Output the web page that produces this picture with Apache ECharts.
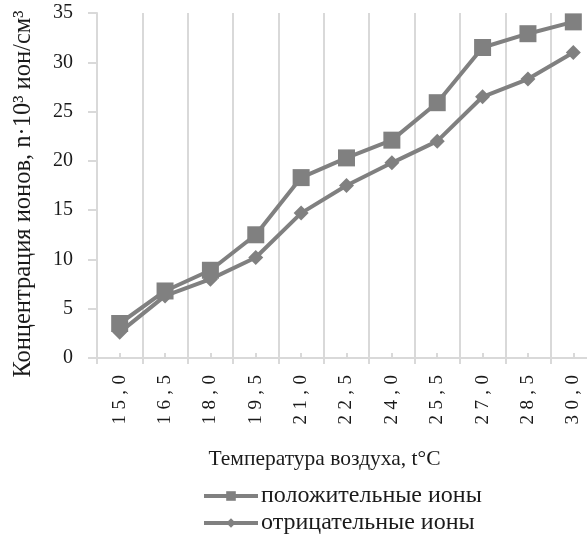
<!DOCTYPE html>
<html>
<head>
<meta charset="utf-8">
<script src="https://cdn.jsdelivr.net/npm/echarts@6/dist/echarts.min.js"></script>
<style>
html,body{margin:0;padding:0;background:#fff;}
#chart{width:587px;height:535px;}
</style>
</head>
<body>
<div id="chart"></div>
<script>
const categories = ["15,0","16,5","18,0","19,5","21,0","22,5","24,0","25,5","27,0","28,5","30,0"];
const positiveIons = [3.5, 6.8, 8.9, 12.5, 18.3, 20.3, 22.1, 25.9, 31.5, 32.9, 34.1];
const negativeIons = [2.6, 6.3, 8.0, 10.2, 14.7, 17.5, 19.8, 22.0, 26.5, 28.3, 31.0];
const yTicks = {min: 0, max: 35, interval: 5};
const seriesNames = ["положительные ионы", "отрицательные ионы"];
const xTitle = "Температура воздуха, t°C";
const yTitle = "Концентрация ионов, n·10³ ион/см³";

const FONT = "'Liberation Serif', 'DejaVu Serif', serif";
const TXT = "#1a1a1a";
const GRID = "#d9d9d9";
const LINE = "#808080";

const chart = echarts.init(document.getElementById('chart'));
chart.setOption({
  animation: false,
  backgroundColor: '#fff',
  textStyle: {fontFamily: FONT, color: TXT},
  grid: {left: 97, top: 13, bottom: 177, width: 499, containLabel: false, outerBoundsMode: 'none'},
  legend: {
    orient: 'vertical',
    left: 197,
    top: 479,
    height: 80,
    itemWidth: 54,
    itemHeight: 12,
    itemGap: 3,
    lineStyle: {width: 4, color: LINE},
    textStyle: {fontFamily: FONT, fontSize: 24, color: TXT, padding: [0,0,0,-2]},
    data: seriesNames
  },
  xAxis: [{
    type: 'category',
    data: categories,
    position: 'bottom',
    boundaryGap: true,
    axisLine: {show: true, lineStyle: {color: GRID, width: 2}},
    axisTick: {show: true, alignWithLabel: true, inside: true, length: 5, lineStyle: {color: GRID, width: 2}},
    splitLine: {show: true, lineStyle: {color: GRID, width: 2}},
    axisLabel: {
      rotate: 90,
      margin: 17,
      fontSize: 19,
      fontFamily: FONT,
      color: TXT,
      formatter: v => v.split('').join('\u2009\u200A')
    },
    name: xTitle,
    nameLocation: 'middle',
    nameGap: 90,
    nameMoveOverlap: false,
    nameTextStyle: {fontFamily: FONT, fontSize: 21.5, color: TXT, padding: [0, 44, 0, 0]}
  }, {
    type: 'category',
    data: categories,
    position: 'bottom',
    boundaryGap: true,
    axisLine: {show: false},
    axisTick: {show: true, inside: false, length: 6, lineStyle: {color: GRID, width: 2}},
    axisLabel: {show: false},
    splitLine: {show: false}
  }],
  yAxis: {
    type: 'value',
    min: yTicks.min,
    max: yTicks.max,
    interval: yTicks.interval,
    axisLine: {show: true, lineStyle: {color: GRID, width: 2}},
    axisTick: {show: true, inside: false, length: 9, lineStyle: {color: GRID, width: 2}},
    splitLine: {show: false},
    axisLabel: {fontSize: 20, fontFamily: FONT, color: TXT, margin: 24},
    name: yTitle,
    nameLocation: 'middle',
    nameGap: 61,
    nameMoveOverlap: false,
    nameTextStyle: {fontFamily: FONT, fontSize: 24.5, color: TXT, padding: [0, 17, 0, 0]}
  },
  series: [{
    name: seriesNames[0],
    type: 'line',
    data: positiveIons,
    symbol: 'rect',
    symbolSize: 17,
    itemStyle: {color: LINE},
    lineStyle: {color: LINE, width: 4}
  }, {
    name: seriesNames[1],
    type: 'line',
    data: negativeIons,
    symbol: 'diamond',
    symbolSize: 15,
    itemStyle: {color: LINE},
    lineStyle: {color: LINE, width: 4}
  }]
});
</script>
</body>
</html>
